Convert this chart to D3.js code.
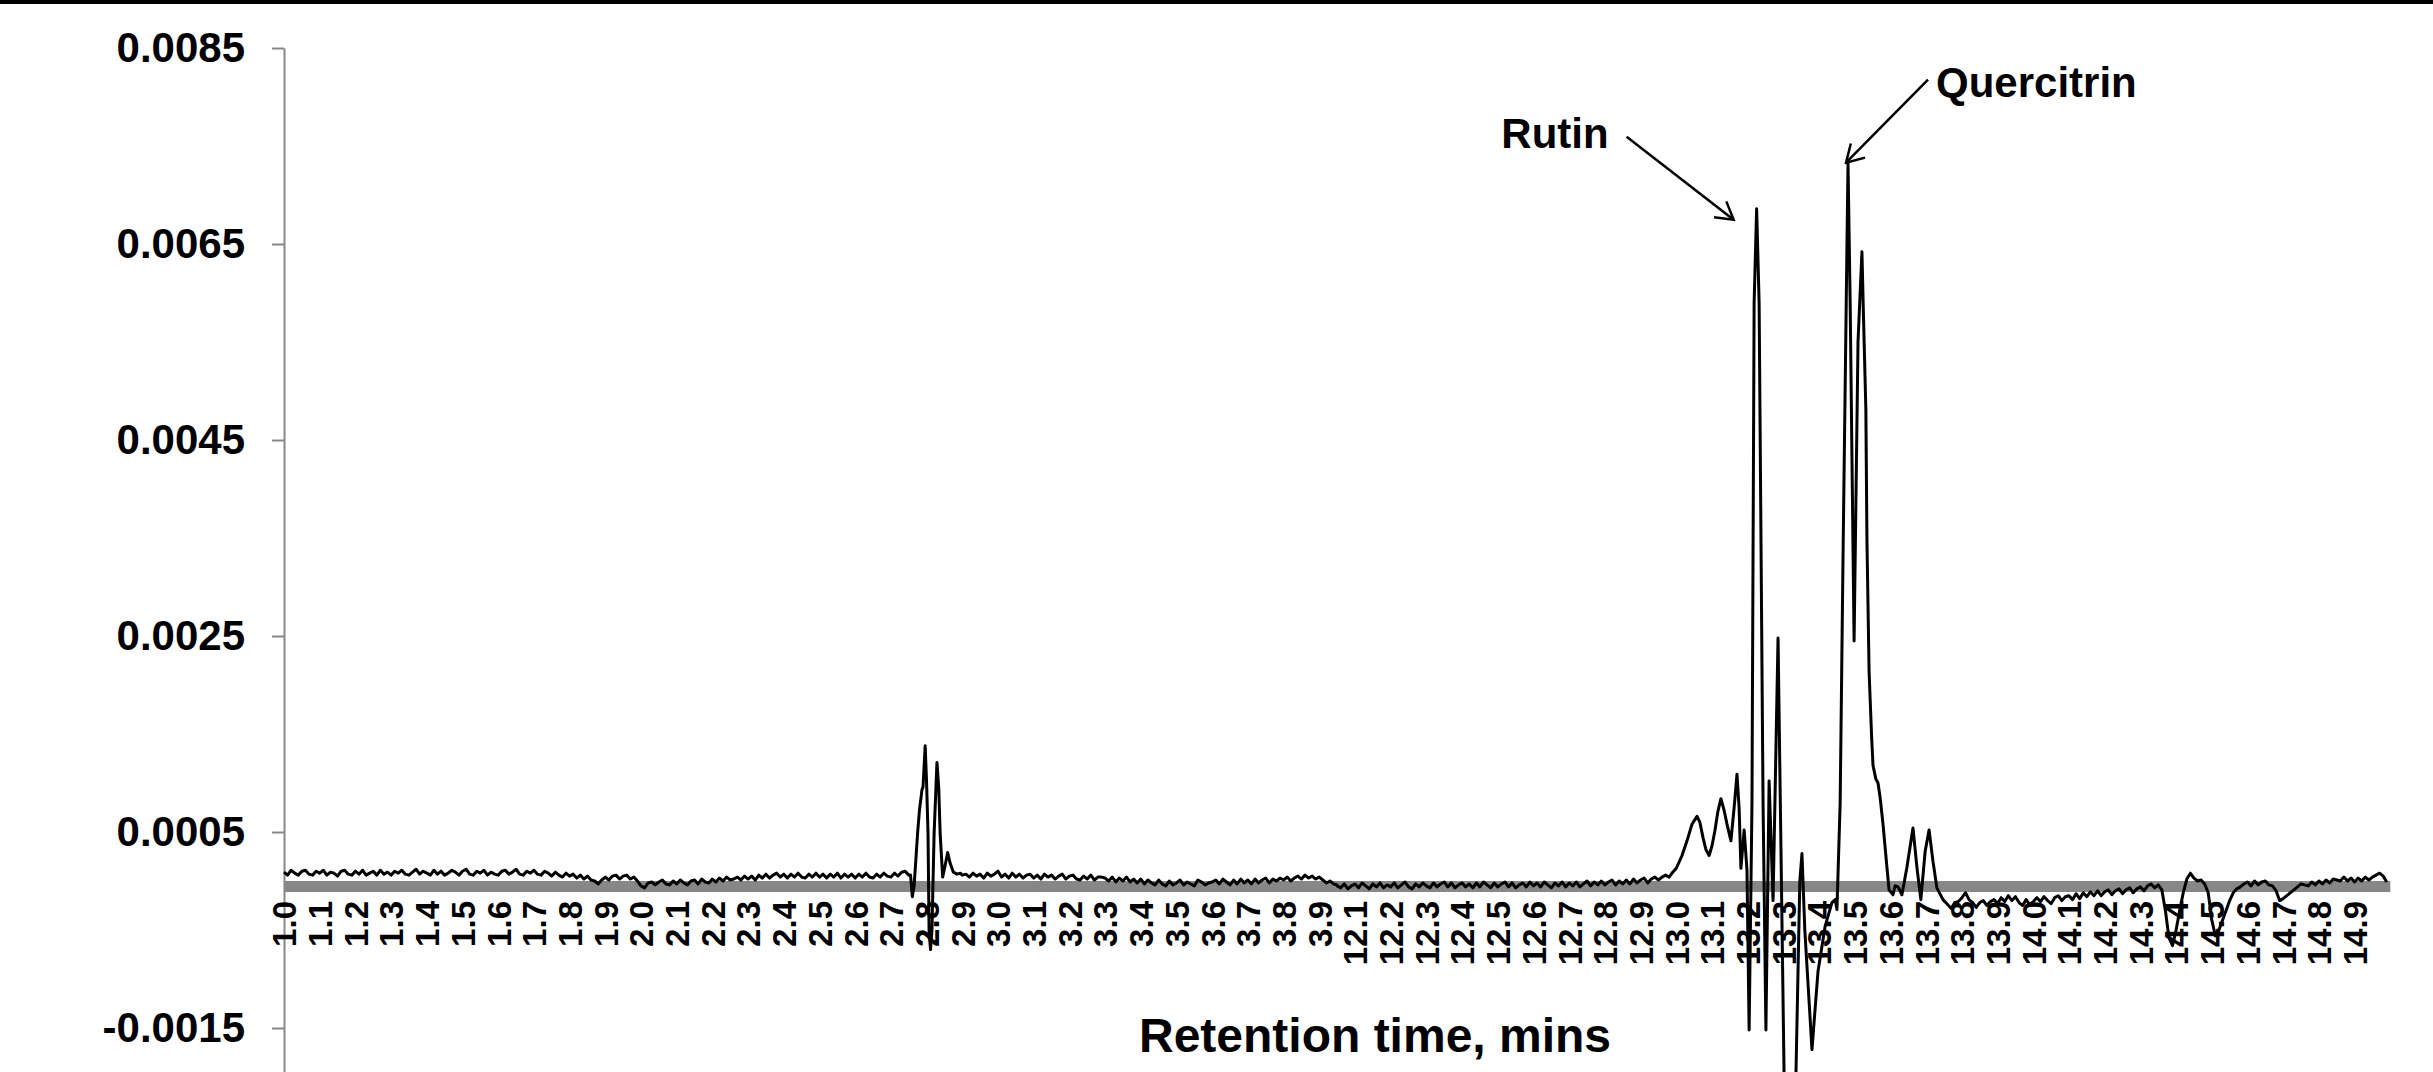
<!DOCTYPE html>
<html>
<head>
<meta charset="utf-8">
<script src="https://cdn.jsdelivr.net/npm/d3@7"></script>
<style>
    body { margin: 0; background: #fff; overflow: hidden; }
    text { font-family: "Liberation Sans", Arial, sans-serif; font-weight: bold; fill: #000; }
</style>
</head>
<body>
<div id="canvas"></div>
<script>
// x axis category labels (retention time, min)
const xLabels = [1.0, 1.1, 1.2, 1.3, 1.4, 1.5, 1.6, 1.7, 1.8, 1.9, 2.0, 2.1, 2.2, 2.3, 2.4, 2.5, 2.6, 2.7, 2.8, 2.9,
    3.0, 3.1, 3.2, 3.3, 3.4, 3.5, 3.6, 3.7, 3.8, 3.9,
    12.1, 12.2, 12.3, 12.4, 12.5, 12.6, 12.7, 12.8, 12.9, 13.0, 13.1, 13.2, 13.3, 13.4, 13.5, 13.6, 13.7, 13.8, 13.9,
    14.0, 14.1, 14.2, 14.3, 14.4, 14.5, 14.6, 14.7, 14.8, 14.9];
const yTicks = [-0.0015, 0.0005, 0.0025, 0.0045, 0.0065, 0.0085];

// absorbance readings, in units of 1e-5
// baseline stretches sampled every 0.01 min
const baseA = [ // from 1.00
    9, 6, 11, 8, 6, 10, 11, 7, 6, 10,
    8, 11, 6, 9, 8, 5, 10, 11, 7, 6,
    10, 7, 11, 6, 8, 10, 6, 11, 7, 9,
    6, 10, 8, 11, 7, 6, 9, 12, 7, 10,
    8, 6, 11, 7, 10, 6, 8, 11, 9, 6,
    10, 12, 7, 6, 10, 8, 11, 6, 9, 7,
    6, 10, 11, 7, 9, 12, 7, 6, 10, 8,
    11, 7, 6, 10, 8, 5, 9, 6, 4, 8,
    5, 7, 3, 6, 2, 5, 1, 0, -3, 1,
    4, 1, 5, 6, 2, 5, 6, 2, 4, 0,
    -5, -7, -2, -1, -4, -1, 1, -3, -4, 0,
    -3, 1, -2, -4, 0, 1, -3, 2, -1, -2,
    2, -1, 3, 0, 4, 1, 2, 4, 1, 5,
    2, 5, 1, 6, 3, 7, 3, 6, 8, 4,
    7, 3, 7, 4, 8, 4, 3, 7, 4, 8,
    4, 7, 3, 7, 4, 8, 3, 7, 4, 7,
    3, 7, 4, 8, 4, 3, 7, 4, 8, 5,
    4, 8, 5, 9, 10, 6];
const baseB = [ // from 2.91
    7, 4, 8, 5, 7, 3, 8, 5, 7,
    10, 4, 7, 3, 8, 4, 7, 3, 6, 7,
    3, 6, 2, 7, 4, 6, 2, 5, 7, 2,
    5, 6, 2, 1, 5, 2, 6, 1, 4, 4,
    3, 0, 4, -1, 3, 0, 4, -1, 2, -2,
    2, -3, 1, -2, -4, 1, -3, -5, 0, -4,
    -2, 1, -4, -1, -3, -5, 1, -1, -4, -2,
    -1, 1, -3, 2, -1, -4, 1, -3, 2, -2,
    1, -3, 2, -2, 1, 3, -2, 2, 0, 3,
    1, 4, 0, 3, 5, 2, 6, 3, 5, 2,
    4, 1, -2, 0, -3, -4];
const baseC = [ // from 12.05
    -5, -7, -3, -8, -5,
    -3, -7, -2, -5, -8, -3, -6, -2, -7, -4,
    -6, -2, -7, -4, -1, -6, -8, -3, -6, -2,
    -5, -7, -2, -6, -3, -1, -6, -2, -7, -4,
    -2, -6, -3, -7, -2, -6, -1, -4, -7, -2,
    -6, -3, -1, -6, -2, -7, -4, -2, -6, -1,
    -5, -2, -6, -1, -4, -7, -2, -5, -1, -6,
    -2, -5, -1, -6, -3, 0, -5, -1, -4, 0,
    -4, -1, 1, -4, 0, -3, 1, -3, 2, -2,
    1, 3, -2, 2, 4, 1, 4, 6, 4, 9];
const baseD = [ // from 13.76
    -24, -28, -22, -21,
    -17, -12, -19, -22, -27, -22, -20, -25, -21, -19,
    -23, -17, -21, -15, -20, -16, -22, -25, -19, -24,
    -21, -17, -21, -16, -20, -23, -17, -15, -20, -16,
    -15, -19, -13, -18, -12, -16, -11, -15, -10, -15,
    -11, -9, -14, -10, -8, -13, -9, -7, -12, -8,
    -6, -10, -5, -3, -7, -4, -9, -30, -58, -66,
    -50, -30, -12, 2, 8, 3, 0, 1, -3, -12,
    -40, -56, -50, -40, -30, -20, -12, -8, -6, -3,
    -1, -5, 0, -4, -1, 0, -4, -5, -10, -20,
    -18, -15, -12, -9, -6, -3, -4, -5, -1, -4,
    0, -3, 1, -2, 2, 1, 0, 4, 0, 3,
    -1, 3, 0, 4, 1, 4, 6, 8, 5, -1];

// peak regions, [time, value]
const peaksEarly = [[2.755, 6], [2.760, -16], [2.765, -5], [2.770, 22], [2.775, 50], [2.780, 72], [2.787, 93],
    [2.790, 96], [2.796, 138], [2.800, 100], [2.804, 48], [2.807, -52], [2.811, -70], [2.815, -50], [2.821, 48],
    [2.829, 121], [2.834, 95], [2.838, 48], [2.845, 4], [2.852, 16], [2.859, 29], [2.866, 18], [2.875, 9],
    [2.885, 7], [2.895, 8], [2.900, 6]];
const peaksLate = [[13.000, 13], [13.016, 26], [13.030, 41], [13.044, 58], [13.058, 66], [13.066, 60],
    [13.075, 44], [13.083, 32], [13.092, 26], [13.100, 36], [13.108, 51], [13.116, 70], [13.125, 84],
    [13.134, 72], [13.142, 58], [13.153, 41], [13.162, 75], [13.170, 109], [13.176, 74], [13.181, 13],
    [13.190, 52], [13.198, 11], [13.204, -152], [13.212, 80], [13.218, 590], [13.225, 686], [13.232, 590],
    [13.243, 80], [13.251, -152], [13.260, 102], [13.271, -20], [13.285, 248], [13.302, -200], [13.318, -260],
    [13.335, -200], [13.346, 0], [13.352, 28], [13.360, -50], [13.380, -172], [13.397, -92], [13.417, -46],
    [13.436, -22], [13.445, -19], [13.450, -29], [13.459, 80], [13.467, 330], [13.476, 590], [13.481, 733],
    [13.487, 590], [13.498, 245], [13.509, 550], [13.520, 642], [13.524, 581], [13.531, 481], [13.534, 348],
    [13.540, 214], [13.547, 148], [13.551, 118], [13.559, 104], [13.565, 100], [13.571, 85], [13.579, 58],
    [13.590, 14], [13.596, -9], [13.607, -14], [13.613, -5], [13.621, -6], [13.632, -14], [13.646, 14],
    [13.663, 54], [13.674, 14], [13.685, -19], [13.697, 30], [13.708, 52], [13.719, 20], [13.730, -7],
    [13.747, -19]];

// labelled peaks
const peakNames = ["Rutin", "Quercitrin"];
const peakTimes = [13.225, 13.481];
const peakValues = [686, 733];

const unit = 1e-5;
const step = 0.01;

const svg = d3.select("#canvas").append("svg")
    .attr("width", 2433)
    .attr("height", 1072);

// frame line along the top
svg.append("rect")
    .attr("x", 0).attr("y", 0)
    .attr("width", 2433).attr("height", 4)
    .attr("fill", "#000");

const band = 35.7; // width of one category slot
const left = 284;

// the run has a break between 3.95 and 12.05 min
const x = d3.scaleLinear()
    .domain([1.0, 3.95, 12.05, 15.0])
    .range([left, left + 29.5 * band, left + 29.5 * band, left + 59 * band]);

const y = d3.scaleLinear()
    .domain([-0.0035, 0.0085])
    .range([1224, 48]);

const sampled = (start, vals) => vals.map((v, i) => [+(start + i * step).toFixed(3), v]);
const trace = [].concat(
    sampled(1.00, baseA), peaksEarly, sampled(2.91, baseB),
    sampled(12.05, baseC), peaksLate, sampled(13.76, baseD)
).map(d => [d[0], d[1] * unit]);

// horizontal axis bar at zero
svg.append("line")
    .attr("x1", x(1.0)).attr("x2", x(15.0))
    .attr("y1", y(0) + 5.5).attr("y2", y(0) + 5.5)
    .attr("stroke", "#878787")
    .attr("stroke-width", 11);

const yAxis = svg.append("g")
    .attr("transform", `translate(${left}, 0)`)
    .call(d3.axisLeft(y)
        .tickValues(yTicks)
        .tickSize(12)
        .tickSizeOuter(0)
        .tickPadding(27)
        .tickFormat(d => d.toFixed(4)));
yAxis.select(".domain").attr("stroke", "#878787").attr("stroke-width", 2);
yAxis.selectAll(".tick line").attr("stroke", "#878787").attr("stroke-width", 2);
yAxis.selectAll("text").attr("font-size", 42).attr("font-family", null);

const xAxis = svg.append("g")
    .attr("transform", `translate(0, ${y(0) + 11})`)
    .call(d3.axisBottom(x)
        .tickValues(xLabels)
        .tickSize(0)
        .tickFormat(d => d.toFixed(1)));
xAxis.select(".domain").remove();
xAxis.selectAll("text")
    .attr("font-size", 33)
    .attr("font-family", null)
    .attr("transform", "rotate(-90)")
    .attr("text-anchor", "end")
    .attr("x", -9)
    .attr("y", 0)
    .attr("dy", "0.36em");

const line = d3.line()
    .x(d => x(d[0]))
    .y(d => y(d[1]));

svg.append("path")
    .datum(trace)
    .attr("fill", "none")
    .attr("stroke", "#000")
    .attr("stroke-width", 3)
    .attr("stroke-linejoin", "round")
    .attr("d", line);

svg.append("text")
    .attr("x", 1375)
    .attr("y", 1052)
    .attr("text-anchor", "middle")
    .attr("font-size", 48)
    .text("Retention time, mins");

// open arrow heads for the peak callouts
svg.append("defs").append("marker")
    .attr("id", "head")
    .attr("viewBox", "0 -11 20 22")
    .attr("refX", 18).attr("refY", 0)
    .attr("markerWidth", 20).attr("markerHeight", 22)
    .attr("markerUnits", "userSpaceOnUse")
    .attr("orient", "auto")
    .append("path")
    .attr("d", "M1,-10L18,0L1,10")
    .attr("fill", "none")
    .attr("stroke", "#000")
    .attr("stroke-width", 2.5);

const tipOffset = [[-23, 11], [-2, 0]];
const tailOffset = [[-107, -83], [82, -83]];

peakNames.forEach((name, i) => {
    const tx = x(peakTimes[i]) + tipOffset[i][0];
    const ty = y(peakValues[i] * unit) + tipOffset[i][1];
    const sx = tx + tailOffset[i][0];
    const sy = ty + tailOffset[i][1];

    svg.append("line")
        .attr("x1", sx).attr("y1", sy)
        .attr("x2", tx).attr("y2", ty)
        .attr("stroke", "#000")
        .attr("stroke-width", 2.5)
        .attr("marker-end", "url(#head)");

    const right = tailOffset[i][0] > 0;
    svg.append("text")
        .attr("x", right ? sx + 8 : sx - 18)
        .attr("y", right ? sy + 17 : sy + 11)
        .attr("text-anchor", right ? "start" : "end")
        .attr("font-size", 42)
        .text(name);
});
</script>
</body>
</html>
